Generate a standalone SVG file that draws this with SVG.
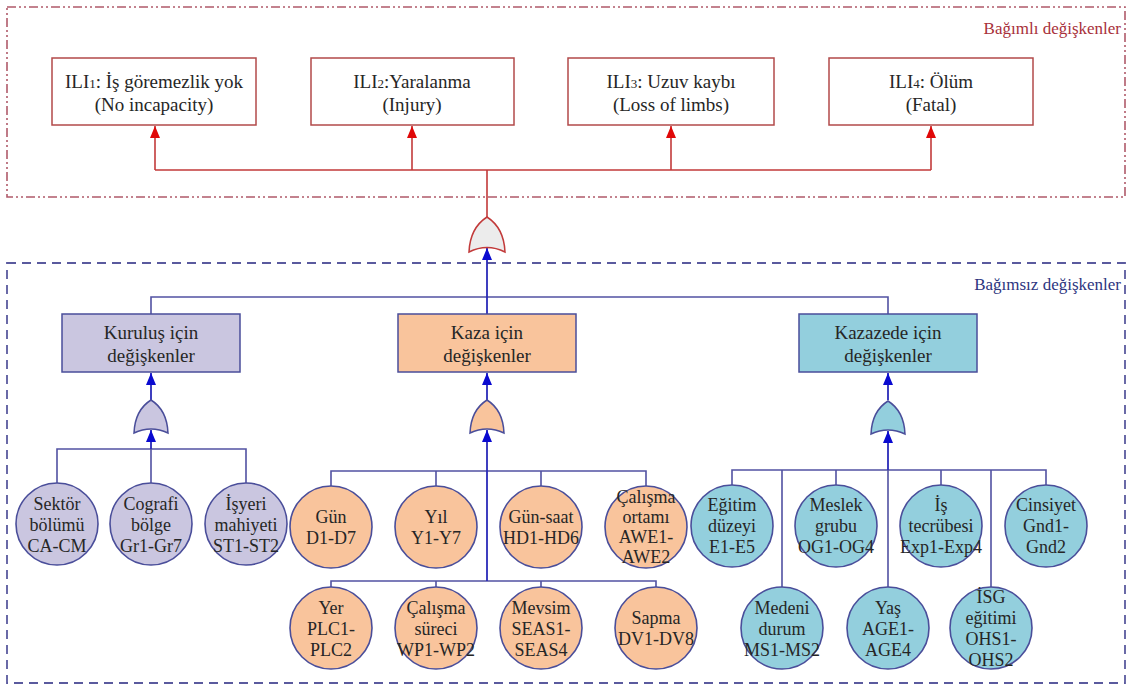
<svg xmlns="http://www.w3.org/2000/svg" width="1129" height="686" viewBox="0 0 1129 686" font-family="'Liberation Serif', 'DejaVu Serif', serif">
<defs>
<style>
text{font-family:'Liberation Serif','DejaVu Serif',serif;fill:#262626;text-anchor:middle}
.ili rect{fill:#fff;stroke:#b24a4a;stroke-width:1.5}
.ili text{font-size:19px}
.cat rect{stroke:#4a4e9a;stroke-width:1.5}
.cat text{font-size:19px}
.c circle{stroke:#4a4e9a;stroke-width:1.6}
.c text{font-size:18px}
.lav{fill:#cac6e0}
.pea{fill:#f9c49c}
.blu{fill:#93cfdd}
.gate{stroke:#4a4e9a;stroke-width:1.5}
.rl{stroke:#c23a3a;stroke-width:1.6;fill:none}
.bl{stroke:#5252a2;stroke-width:1.6;fill:none}
.bm{stroke:#2a2ab8;stroke-width:1.8;fill:none}
.lbl{font-size:17px;text-anchor:end}
</style>
<marker id="ar" viewBox="0 0 12 10" refX="12" refY="5" markerWidth="12" markerHeight="10" markerUnits="userSpaceOnUse" orient="auto"><path d="M0,0 L12,5 L0,10 Z" fill="#e00808"/></marker>
<marker id="ab" viewBox="0 0 12 10" refX="12" refY="5" markerWidth="12" markerHeight="10" markerUnits="userSpaceOnUse" orient="auto"><path d="M0,0 L12,5 L0,10 Z" fill="#0a0ad0"/></marker>
</defs>

<g id="frames">
<rect x="7" y="7" width="1118" height="190" fill="none" stroke="#b05a6a" stroke-width="1.6" stroke-dasharray="9 3 2 3 2 3"/>
<rect x="7" y="263" width="1118" height="420" fill="none" stroke="#5a5a9e" stroke-width="1.8" stroke-dasharray="9 6"/>
<text class="lbl" x="1121" y="34" style="fill:#a8303a">Bağımlı değişkenler</text>
<text class="lbl" x="1121" y="290" style="fill:#2d3580">Bağımsız değişkenler</text>
</g>

<g id="connectors">
<path class="rl" d="M487,218 V170 M155,170 H931"/>
<path class="rl" d="M155,170 V126" marker-end="url(#ar)"/>
<path class="rl" d="M412,170 V126" marker-end="url(#ar)"/>
<path class="rl" d="M671,170 V126" marker-end="url(#ar)"/>
<path class="rl" d="M931,170 V126" marker-end="url(#ar)"/>
<path class="bl" d="M151,314 V297 H888 V314"/>
<path class="bm" d="M487,314 V248" marker-end="url(#ab)"/>
<path class="bm" d="M151,400 V373" marker-end="url(#ab)"/>
<path class="bm" d="M487,400 V373" marker-end="url(#ab)"/>
<path class="bm" d="M888,400 V373" marker-end="url(#ab)"/>
<path class="bl" d="M57,483 V449 H246 V483 M151,483 V449"/>
<path class="bm" d="M151,449 V430" marker-end="url(#ab)"/>
<path class="bl" d="M331,486 V471 H646 V486 M436,471 V486 M541,471 V486 M331,587 V581 H656 V587 M436,581 V587 M541,581 V587"/>
<path class="bm" d="M487,581 V430" marker-end="url(#ab)"/>
<path class="bl" d="M732,485 V470 H1046 V485 M836,470 V485 M941,470 V485 M782,470 V587 M991,470 V587 M888,470 V587"/>
<path class="bm" d="M888,470 V431" marker-end="url(#ab)"/>
</g>

<g id="gate-top"><path d="M469,252 Q487,243 505,252 Q504,228 487,217 Q470,228 469,252 Z" fill="#ececec" stroke="#c23a3a" stroke-width="1.5"/></g>
<g id="gate-kurulus"><path class="gate lav" d="M134,433 Q151,425 168,433 Q167,410 151,400 Q135,410 134,433 Z"/></g>
<g id="gate-kaza"><path class="gate pea" d="M470,433 Q487,425 504,433 Q503,410 487,400 Q471,410 470,433 Z"/></g>
<g id="gate-kazazede"><path class="gate blu" d="M871,434 Q888,426 905,434 Q904,411 888,401 Q872,411 871,434 Z"/></g>

<g id="ili1" class="ili"><rect x="52" y="58" width="204" height="67"/><text x="154" y="88">ILI<tspan font-size="13">1</tspan>: İş göremezlik yok</text><text x="154" y="111">(No incapacity)</text></g>
<g id="ili2" class="ili"><rect x="311" y="58" width="203" height="67"/><text x="412" y="88">ILI<tspan font-size="13">2</tspan>:Yaralanma</text><text x="412" y="111">(Injury)</text></g>
<g id="ili3" class="ili"><rect x="568" y="58" width="206" height="67"/><text x="671" y="88">ILI<tspan font-size="13">3</tspan>: Uzuv kaybı</text><text x="671" y="111">(Loss of limbs)</text></g>
<g id="ili4" class="ili"><rect x="829" y="58" width="204" height="67"/><text x="931" y="88">ILI<tspan font-size="13">4</tspan>: Ölüm</text><text x="931" y="111">(Fatal)</text></g>

<g id="cat-kurulus" class="cat"><rect class="lav" x="62" y="314" width="178" height="58"/><text x="151" y="339">Kuruluş için</text><text x="151" y="362">değişkenler</text></g>
<g id="cat-kaza" class="cat"><rect class="pea" x="398" y="314" width="178" height="58"/><text x="487" y="339">Kaza için</text><text x="487" y="362">değişkenler</text></g>
<g id="cat-kazazede" class="cat"><rect class="blu" x="799" y="314" width="178" height="58"/><text x="888" y="339">Kazazede için</text><text x="888" y="362">değişkenler</text></g>

<g id="n-sektor" class="c"><circle class="lav" cx="57" cy="524" r="41"/><text x="57" y="510">Sektör</text><text x="57" y="531">bölümü</text><text x="57" y="552">CA-CM</text></g>
<g id="n-cografi" class="c"><circle class="lav" cx="151" cy="524" r="41"/><text x="151" y="510">Cografi</text><text x="151" y="531">bölge</text><text x="151" y="552">Gr1-Gr7</text></g>
<g id="n-isyeri" class="c"><circle class="lav" cx="246" cy="524" r="41"/><text x="246" y="510">İşyeri</text><text x="246" y="531">mahiyeti</text><text x="246" y="552">ST1-ST2</text></g>

<g id="n-gun" class="c"><circle class="pea" cx="331" cy="527" r="41"/><text x="331" y="523">Gün</text><text x="331" y="544">D1-D7</text></g>
<g id="n-yil" class="c"><circle class="pea" cx="436" cy="527" r="41"/><text x="436" y="523">Yıl</text><text x="436" y="544">Y1-Y7</text></g>
<g id="n-gunsaat" class="c"><circle class="pea" cx="541" cy="527" r="41"/><text x="541" y="523">Gün-saat</text><text x="541" y="544">HD1-HD6</text></g>
<g id="n-ortam" class="c"><circle class="pea" cx="646" cy="527" r="41"/><text x="646" y="503">Çalışma</text><text x="646" y="523">ortamı</text><text x="646" y="543">AWE1-</text><text x="646" y="563">AWE2</text></g>
<g id="n-yer" class="c"><circle class="pea" cx="331" cy="628" r="41"/><text x="331" y="614">Yer</text><text x="331" y="635">PLC1-</text><text x="331" y="656">PLC2</text></g>
<g id="n-surec" class="c"><circle class="pea" cx="436" cy="628" r="41"/><text x="436" y="614">Çalışma</text><text x="436" y="635">süreci</text><text x="436" y="656">WP1-WP2</text></g>
<g id="n-mevsim" class="c"><circle class="pea" cx="541" cy="628" r="41"/><text x="541" y="614">Mevsim</text><text x="541" y="635">SEAS1-</text><text x="541" y="656">SEAS4</text></g>
<g id="n-sapma" class="c"><circle class="pea" cx="656" cy="628" r="41"/><text x="656" y="624">Sapma</text><text x="656" y="645">DV1-DV8</text></g>

<g id="n-egitim" class="c"><circle class="blu" cx="732" cy="526" r="41"/><text x="732" y="511">Eğitim</text><text x="732" y="532">düzeyi</text><text x="732" y="553">E1-E5</text></g>
<g id="n-meslek" class="c"><circle class="blu" cx="836" cy="526" r="41"/><text x="836" y="511">Meslek</text><text x="836" y="532">grubu</text><text x="836" y="553">OG1-OG4</text></g>
<g id="n-tecrube" class="c"><circle class="blu" cx="941" cy="526" r="41"/><text x="941" y="511">İş</text><text x="941" y="532">tecrübesi</text><text x="941" y="553">Exp1-Exp4</text></g>
<g id="n-cinsiyet" class="c"><circle class="blu" cx="1046" cy="526" r="41"/><text x="1046" y="511">Cinsiyet</text><text x="1046" y="532">Gnd1-</text><text x="1046" y="553">Gnd2</text></g>
<g id="n-medeni" class="c"><circle class="blu" cx="782" cy="628" r="41"/><text x="782" y="614">Medeni</text><text x="782" y="635">durum</text><text x="782" y="656">MS1-MS2</text></g>
<g id="n-yas" class="c"><circle class="blu" cx="888" cy="628" r="41"/><text x="888" y="614">Yaş</text><text x="888" y="635">AGE1-</text><text x="888" y="656">AGE4</text></g>
<g id="n-isg" class="c"><circle class="blu" cx="991" cy="628" r="41"/><text x="991" y="603">İSG</text><text x="991" y="624">eğitimi</text><text x="991" y="645">OHS1-</text><text x="991" y="666">OHS2</text></g>
</svg>
